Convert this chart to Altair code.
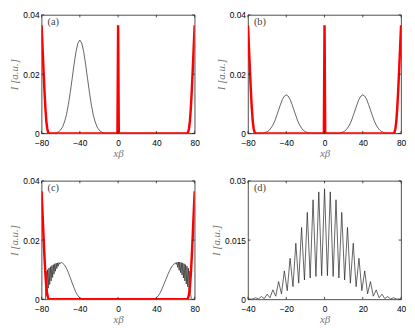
import altair as alt
import pandas as pd

# ---------------- data ----------------
# red (edge + centre) curves, panels a and b
red_ab_x = [-80, -79, -78, -77, -76, -75, -74, -73, -72, -0.7, 0, 0.7,
            72, 73, 74, 75, 76, 77, 78, 79, 80]
red_ab_y = [0.0365, 0.029, 0.0215, 0.0145, 0.0085, 0.004, 0.0015, 0.0003, 0, 0, 0.0365, 0,
            0, 0.0003, 0.0015, 0.004, 0.0085, 0.0145, 0.0215, 0.029, 0.0365]
# red curve, panel c (no centre spike)
red_c_x = [-80, -79, -78, -77, -76, -75, -74, -73, -72,
           72, 73, 74, 75, 76, 77, 78, 79, 80]
red_c_y = [0.0365, 0.029, 0.0215, 0.0145, 0.0085, 0.004, 0.0015, 0.0003, 0,
           0, 0.0003, 0.0015, 0.004, 0.0085, 0.0145, 0.0215, 0.029, 0.0365]

# panel a: single packet near x = -40
black_a_x = [-80, -68, -66, -64, -62, -60, -58, -56, -54, -52, -50, -48, -46, -44, -42,
             -40, -38, -36, -34, -32, -30, -28, -26, -24, -22, -20, -18, -16, -14, -12, 80]
black_a_y = [0, 0, 0.0001, 0.0003, 0.0006, 0.0012, 0.0022, 0.0039, 0.0063, 0.0097, 0.0139,
             0.0186, 0.0234, 0.0276, 0.0305, 0.0315, 0.0305, 0.0276, 0.0234, 0.0186, 0.0139,
             0.0097, 0.0063, 0.0039, 0.0022, 0.0012, 0.0006, 0.0003, 0.0001, 0, 0]

# panel b: two packets at x = -40 and x = 40
black_b_x = [-80, -66, -64, -62, -60, -58, -56, -54, -52, -50, -48, -46, -44, -42,
             -40, -38, -36, -34, -32, -30, -28, -26, -24, -22, -20, -18, -16, -14,
             14, 16, 18, 20, 22, 24, 26, 28, 30, 32, 34, 36, 38,
             40, 42, 44, 46, 48, 50, 52, 54, 56, 58, 60, 62, 64, 66, 80]
black_b_y = [0, 0, 0.0001, 0.0003, 0.0006, 0.0010, 0.0018, 0.0028, 0.0042, 0.0060, 0.0079,
             0.0098, 0.0115, 0.0126, 0.0130, 0.0126, 0.0115, 0.0098, 0.0079, 0.0060, 0.0042,
             0.0028, 0.0018, 0.0010, 0.0006, 0.0003, 0.0001, 0,
             0, 0.0001, 0.0003, 0.0006, 0.0010, 0.0018, 0.0028, 0.0042, 0.0060, 0.0079,
             0.0098, 0.0115, 0.0126, 0.0130, 0.0126, 0.0115, 0.0098, 0.0079, 0.0060, 0.0042,
             0.0028, 0.0018, 0.0010, 0.0006, 0.0003, 0.0001, 0, 0]

# panel c: packets reflected at the edges, with fast oscillations
black_c_x = [-80, -76, -75.25, -74.5, -73.75, -73, -72.25, -71.5, -70.75, -70, -69.25,
             -68.5, -67.75, -67, -66.25, -65.5, -64.75, -64, -63.25, -62.5, -61.75, -61,
             -60, -59, -58, -56, -54, -52, -50, -48, -46, -44, -42, -40, -38, -36,
             36, 38, 40, 42, 44, 46, 48, 50, 52, 54, 56, 58, 60, 60.75, 61.5, 62.25, 63,
             63.75, 64.5, 65.25, 66, 66.75, 67.5, 68.25, 69, 69.75, 70.5, 71.25, 72, 72.75,
             73.5, 74.25, 75, 75.75, 76.5, 80]
black_c_y = [0, 0, 0.0095, 0.0030, 0.0100, 0.0038, 0.0106, 0.0050, 0.0110, 0.0062, 0.0114,
             0.0074, 0.0117, 0.0085, 0.0120, 0.0095, 0.0122, 0.0104, 0.0123, 0.0112, 0.0124,
             0.0119, 0.0124, 0.0124, 0.0122, 0.0116, 0.0105, 0.0090, 0.0073, 0.0055, 0.0038,
             0.0023, 0.0012, 0.0005, 0.0001, 0,
             0, 0.0001, 0.0005, 0.0012, 0.0022, 0.0036, 0.0052, 0.0068, 0.0084, 0.0098,
             0.0110, 0.0118, 0.0123, 0.0118, 0.0125, 0.0108, 0.0126, 0.0098, 0.0126, 0.0090,
             0.0124, 0.0082, 0.0123, 0.0072, 0.0120, 0.0062, 0.0117, 0.0052, 0.0112, 0.0042,
             0.0105, 0.0033, 0.0095, 0.0020, 0, 0]

# panel d: interference fringes
black_d_x = [-40, -37.5, -36, -34.5, -33, -31.5, -30, -28.5, -27, -25.5, -24, -22.5, -21,
             -19.5, -18, -16.5, -15, -13.5, -12, -10.5, -9, -7.5, -6, -4.5, -3, -1.5, 0,
             1.5, 3, 4.5, 6, 7.5, 9, 10.5, 12, 13.5, 15, 16.5, 18, 19.5, 21, 22.5, 24,
             25.5, 27, 28.5, 30, 31.5, 33, 34.5, 36, 37.5, 40]
black_d_y = [0, 0.0001, 0.0004, 0.0001, 0.0007, 0.0002, 0.0013, 0.0004, 0.0024, 0.0008,
             0.0045, 0.0014, 0.0072, 0.0022, 0.0104, 0.0032, 0.0142, 0.0041, 0.0182, 0.0049,
             0.0220, 0.0054, 0.0252, 0.0058, 0.0272, 0.0060, 0.0280,
             0.0060, 0.0272, 0.0058, 0.0252, 0.0054, 0.0220, 0.0049, 0.0182, 0.0041, 0.0142,
             0.0032, 0.0104, 0.0022, 0.0072, 0.0014, 0.0045, 0.0008, 0.0024, 0.0004, 0.0013,
             0.0002, 0.0007, 0.0001, 0.0004, 0.0001, 0]

xticks_wide = [-80, -40, 0, 40, 80]
xticks_d = [-40, -20, 0, 20, 40]
yticks_abc = [0, 0.02, 0.04]
yticks_d = [0, 0.015, 0.03]

W, H = 155, 120
TL = 2.5  # inside tick length
LBL = "format(datum.value, '~g')"


def panel(bx, by, rx, ry, xdom, ydom, xt, yt, label):
    xs = alt.Scale(domain=xdom, nice=False, zero=False)
    ys = alt.Scale(domain=ydom, nice=False, zero=False)
    xax = alt.Axis(values=xt, labelExpr=LBL, title="xβ")
    yax = alt.Axis(values=yt, labelExpr=LBL, title="I [a.u.]")
    X = alt.X("x:Q", scale=xs, axis=xax)
    Y = alt.Y("y:Q", scale=ys, axis=yax)

    bdf = pd.DataFrame({"x": bx, "y": by, "i": range(len(bx))})
    layers = [alt.Chart(bdf).mark_line(color="#222222", strokeWidth=0.7, clip=True)
              .encode(x=X, y=Y, order="i:Q")]
    if rx is not None:
        rdf = pd.DataFrame({"x": rx, "y": ry, "i": range(len(rx))})
        layers.append(alt.Chart(rdf).mark_line(color="#ff0000", strokeWidth=2.5, clip=True)
                      .encode(x=X, y=Y, order="i:Q"))
    xtdf = pd.DataFrame({"x": xt})
    ytdf = pd.DataFrame({"y": yt})
    tick = dict(color="#222222", strokeWidth=0.8)
    layers += [
        alt.Chart(xtdf).mark_rule(**tick).encode(x=X, y=alt.value(H), y2=alt.value(H - TL)),
        alt.Chart(xtdf).mark_rule(**tick).encode(x=X, y=alt.value(0), y2=alt.value(TL)),
        alt.Chart(ytdf).mark_rule(**tick).encode(y=Y, x=alt.value(0), x2=alt.value(TL)),
        alt.Chart(ytdf).mark_rule(**tick).encode(y=Y, x=alt.value(W - TL), x2=alt.value(W)),
    ]
    ldf = pd.DataFrame({"t": [label]})
    layers.append(alt.Chart(ldf).mark_text(align="left", baseline="top", font="Liberation Serif",
                                           fontSize=10.5, color="#444444")
                  .encode(x=alt.value(6), y=alt.value(2), text="t:N"))
    return alt.layer(*layers).properties(width=W, height=H)


pa = panel(black_a_x, black_a_y, red_ab_x, red_ab_y, [-80, 80], [0, 0.04], xticks_wide, yticks_abc, "(a)")
pb = panel(black_b_x, black_b_y, red_ab_x, red_ab_y, [-80, 80], [0, 0.04], xticks_wide, yticks_abc, "(b)")
pc = panel(black_c_x, black_c_y, red_c_x, red_c_y, [-80, 80], [0, 0.04], xticks_wide, yticks_abc, "(c)")
pd_ = panel(black_d_x, black_d_y, None, None, [-40, 40], [0, 0.03], xticks_d, yticks_d, "(d)")

chart = (
    alt.concat(pa, pb, pc, pd_, columns=2, spacing={"row": 48, "column": 54}, bounds="flush")
    .properties(padding={"left": 0, "top": 0, "right": 0, "bottom": 0}, background="white")
    .configure_view(stroke="#222222", strokeWidth=0.8)
    .configure_axis(
        grid=False, domain=False, ticks=False, labelFlush=False, labelOverlap=False,
        labelFont="Liberation Sans", labelFontSize=8.5, labelColor="#000000",
        titleFont="Liberation Serif", titleFontStyle="italic", titleFontWeight="normal",
        titleFontSize=11, titleColor="#777777",
    )
    .configure_axisX(labelPadding=5, titlePadding=1)
    .configure_axisY(labelPadding=2.5, titlePadding=3)
)

chart.save("out.html", embed_options={"renderer": "svg", "actions": False})
